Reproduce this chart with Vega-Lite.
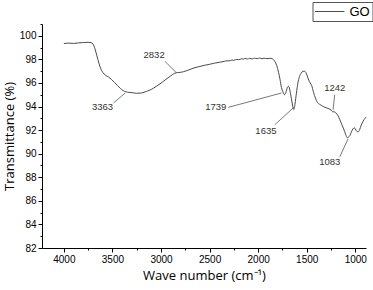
{
  "$schema": "https://vega.github.io/schema/vega-lite/v6.json",
  "width": 324,
  "height": 224,
  "autosize": "none",
  "padding": {"left": 42, "top": 24, "right": 7, "bottom": 42},
  "background": "white",
  "config": {
    "view": {"stroke": null},
    "font": "Liberation Sans",
    "axis": {"domainColor": "#000", "tickColor": "#000", "labelColor": "#000", "titleColor": "#000", "grid": false, "labelFontSize": 10, "titleFontSize": 13, "titleFontWeight": "normal", "titleFont": "Open Sans"}
  },
  "datasets": {
    "spec": [
      {"w": 4000, "t": 99.35}, {"w": 3950, "t": 99.38}, {"w": 3900, "t": 99.35}, {"w": 3850, "t": 99.4},
      {"w": 3800, "t": 99.42}, {"w": 3750, "t": 99.45}, {"w": 3720, "t": 99.42}, {"w": 3700, "t": 99.3},
      {"w": 3680, "t": 98.9}, {"w": 3660, "t": 98.3}, {"w": 3640, "t": 97.7}, {"w": 3620, "t": 97.2},
      {"w": 3600, "t": 96.9}, {"w": 3570, "t": 96.65}, {"w": 3540, "t": 96.5}, {"w": 3510, "t": 96.3},
      {"w": 3480, "t": 96.05}, {"w": 3450, "t": 95.8}, {"w": 3420, "t": 95.55}, {"w": 3390, "t": 95.35},
      {"w": 3363, "t": 95.25}, {"w": 3330, "t": 95.2}, {"w": 3300, "t": 95.18}, {"w": 3250, "t": 95.12},
      {"w": 3200, "t": 95.15}, {"w": 3150, "t": 95.28}, {"w": 3100, "t": 95.45}, {"w": 3050, "t": 95.7},
      {"w": 3000, "t": 95.98}, {"w": 2950, "t": 96.3}, {"w": 2900, "t": 96.6}, {"w": 2860, "t": 96.82},
      {"w": 2832, "t": 96.88}, {"w": 2800, "t": 96.9}, {"w": 2770, "t": 96.95}, {"w": 2700, "t": 97.15},
      {"w": 2650, "t": 97.3}, {"w": 2600, "t": 97.4}, {"w": 2550, "t": 97.5}, {"w": 2500, "t": 97.58},
      {"w": 2450, "t": 97.68}, {"w": 2400, "t": 97.75}, {"w": 2350, "t": 97.83}, {"w": 2320, "t": 97.88},
      {"w": 2300, "t": 97.87}, {"w": 2270, "t": 97.94}, {"w": 2250, "t": 97.92}, {"w": 2220, "t": 98.0},
      {"w": 2200, "t": 97.97}, {"w": 2170, "t": 98.05}, {"w": 2150, "t": 98.02}, {"w": 2135, "t": 98.08},
      {"w": 2110, "t": 98.03}, {"w": 2090, "t": 98.09}, {"w": 2060, "t": 98.04}, {"w": 2040, "t": 98.1},
      {"w": 2010, "t": 98.06}, {"w": 1985, "t": 98.12}, {"w": 1960, "t": 98.05}, {"w": 1940, "t": 98.1},
      {"w": 1910, "t": 98.06}, {"w": 1880, "t": 98.09}, {"w": 1855, "t": 98.05}, {"w": 1830, "t": 97.85},
      {"w": 1810, "t": 97.5}, {"w": 1790, "t": 96.9}, {"w": 1775, "t": 96.3}, {"w": 1760, "t": 95.6},
      {"w": 1745, "t": 95.25}, {"w": 1730, "t": 95.0}, {"w": 1715, "t": 95.2}, {"w": 1700, "t": 95.6},
      {"w": 1690, "t": 95.72}, {"w": 1680, "t": 95.6}, {"w": 1665, "t": 95.0}, {"w": 1650, "t": 94.3},
      {"w": 1635, "t": 93.75}, {"w": 1625, "t": 94.0}, {"w": 1610, "t": 94.9}, {"w": 1595, "t": 95.8},
      {"w": 1580, "t": 96.4}, {"w": 1560, "t": 96.8}, {"w": 1540, "t": 96.98}, {"w": 1525, "t": 97.0},
      {"w": 1510, "t": 96.9}, {"w": 1495, "t": 96.6}, {"w": 1480, "t": 96.25}, {"w": 1465, "t": 96.0},
      {"w": 1450, "t": 95.8}, {"w": 1430, "t": 95.2}, {"w": 1410, "t": 94.7}, {"w": 1390, "t": 94.35},
      {"w": 1370, "t": 94.2}, {"w": 1350, "t": 94.1}, {"w": 1330, "t": 94.0}, {"w": 1300, "t": 93.9},
      {"w": 1270, "t": 93.8}, {"w": 1250, "t": 93.7}, {"w": 1242, "t": 93.62}, {"w": 1230, "t": 93.55},
      {"w": 1215, "t": 93.55}, {"w": 1200, "t": 93.45}, {"w": 1180, "t": 93.25}, {"w": 1160, "t": 92.9},
      {"w": 1140, "t": 92.5}, {"w": 1120, "t": 92.1}, {"w": 1100, "t": 91.65}, {"w": 1083, "t": 91.35},
      {"w": 1070, "t": 91.4}, {"w": 1055, "t": 91.55}, {"w": 1040, "t": 91.85}, {"w": 1025, "t": 92.1},
      {"w": 1010, "t": 92.2}, {"w": 1000, "t": 92.1}, {"w": 985, "t": 91.9}, {"w": 970, "t": 91.85},
      {"w": 955, "t": 92.05}, {"w": 940, "t": 92.4}, {"w": 920, "t": 92.75}, {"w": 900, "t": 93.0},
      {"w": 890, "t": 93.1}
    ],
    "notes": [
      {"label": "3363", "tx": 3602, "ty": 93.93, "x1": 3489, "y1": 94.3, "x2": 3368, "y2": 95.15},
      {"label": "2832", "tx": 3071, "ty": 98.33, "x1": 2958, "y1": 97.82, "x2": 2845, "y2": 96.89},
      {"label": "1739", "tx": 2437, "ty": 93.93, "x1": 2307, "y1": 93.93, "x2": 1759, "y2": 95.15},
      {"label": "1635", "tx": 1920, "ty": 91.95, "x1": 1828, "y1": 92.46, "x2": 1630, "y2": 93.95},
      {"label": "1242", "tx": 1212, "ty": 95.57, "x1": 1212, "y1": 95.0, "x2": 1229, "y2": 93.73},
      {"label": "1083", "tx": 1263, "ty": 89.27, "x1": 1160, "y1": 89.73, "x2": 1075, "y2": 91.25}
    ]
  },
  "resolve": {"axis": {"x": "independent", "y": "independent"}},
  "layer": [
    {
      "data": {"name": "spec"},
      "mark": {"type": "line", "strokeWidth": 1, "interpolate": "monotone"},
      "encoding": {
        "x": {"field": "w", "type": "quantitative", "scale": {"domain": [4225, 890], "nice": false, "zero": false},
          "axis": {"title": "Wave number (cm⁻¹)", "values": [1000, 1500, 2000, 2500, 3000, 3500, 4000], "tickSize": 4, "labelPadding": 2, "titlePadding": 5, "format": "d"}},
        "y": {"field": "t", "type": "quantitative", "scale": {"domain": [82, 101], "nice": false, "zero": false},
          "axis": {"title": "Transmittance (%)", "values": [82, 84, 86, 88, 90, 92, 94, 96, 98, 100], "tickSize": 4, "labelPadding": 2, "titlePadding": 3}},
        "color": {"datum": "GO", "type": "nominal", "scale": {"range": ["#4a4a4a"]},
          "legend": {"title": null, "orient": "none", "legendX": 270.5, "legendY": -22, "symbolType": "M-1,0H3.2", "symbolSize": 196, "symbolStrokeWidth": 1, "strokeColor": "#555", "padding": 2, "labelFontSize": 13, "labelFont": "Liberation Sans", "labelColor": "#000", "symbolOffset": 0, "labelOffset": 20}}
      }
    },
    {
      "data": {"name": "spec"},
      "mark": {"type": "point", "opacity": 0},
      "encoding": {
        "x": {"field": "w", "type": "quantitative", "axis": {"orient": "bottom", "title": null, "labels": false, "domain": false, "values": [1250, 1750, 2250, 2750, 3250, 3750], "tickSize": 2}},
        "y": {"field": "t", "type": "quantitative", "axis": {"orient": "left", "title": null, "labels": false, "domain": false, "values": [83, 85, 87, 89, 91, 93, 95, 97, 99, 101], "tickSize": 2}}
      }
    },
    {
      "data": {"name": "notes"},
      "mark": {"type": "rule", "color": "#555", "strokeWidth": 0.8},
      "encoding": {
        "x": {"field": "x1", "type": "quantitative", "axis": null},
        "y": {"field": "y1", "type": "quantitative", "axis": null},
        "x2": {"field": "x2"},
        "y2": {"field": "y2"}
      }
    },
    {
      "data": {"name": "notes"},
      "mark": {"type": "text", "fontSize": 9.5, "color": "#333", "font": "Liberation Sans"},
      "encoding": {
        "x": {"field": "tx", "type": "quantitative", "axis": null},
        "y": {"field": "ty", "type": "quantitative", "axis": null},
        "text": {"field": "label"}
      }
    }
  ]
}
